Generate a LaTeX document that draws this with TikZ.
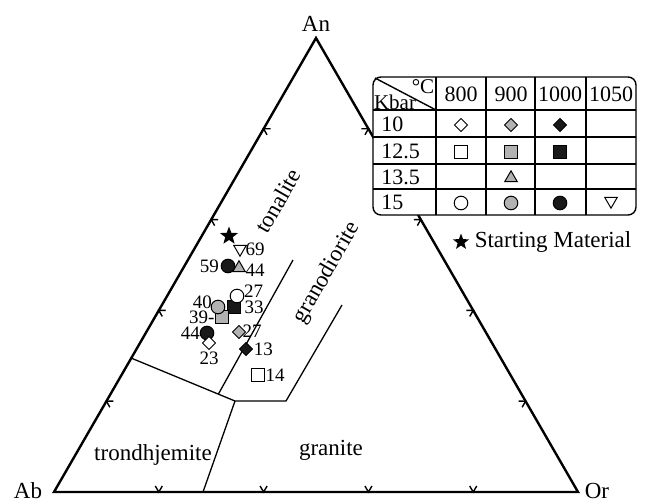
\documentclass[tikz,border=0pt]{standalone}
\usepackage{fontspec}
\setmainfont{Liberation Serif}
\usetikzlibrary{positioning,calc,shapes.geometric}

\begin{document}
\begin{tikzpicture}[x=0.5pt,y=-0.5pt,
    edge/.style={line width=1.2pt},
    bound/.style={line width=0.65pt},
    tick/.style={line width=0.7pt},
    tline/.style={line width=0.7pt},
    rock/.style={font=\fontsize{11.5}{13}\selectfont, inner sep=1pt},
    tab/.style={font=\fontsize{11}{12}\selectfont, inner sep=0pt},
    num/.style={font=\fontsize{9.5}{11}\selectfont, inner sep=0.5pt},
    sym/.style={draw, line width=0.5pt, inner sep=0pt, outer sep=0pt},
    wht/.style={sym, fill=white},
    gry/.style={sym, fill=black!30},
    blk/.style={sym, fill=black!90},
    dia/.style={diamond, minimum width=6.5pt, minimum height=6.5pt},
    sqr/.style={rectangle, minimum size=6.2pt},
    cir/.style={circle, minimum size=6.8pt},
    tri/.style={regular polygon, regular polygon sides=3, minimum size=7.2pt},
    itri/.style={tri, shape border rotate=180},
    stf/.style={star, star points=5, star point ratio=2.4, fill=black, inner sep=0pt, minimum size=9.5pt}]
\useasboundingbox (0,0) rectangle (646,503);

% triangle Ab-Or-An
\coordinate (Ab) at (54,492);
\coordinate (Or) at (578,492);
\coordinate (An) at (316,38);
\draw[edge, line join=miter] (Ab) -- (Or) -- (An) -- cycle;
\foreach \t in {0.2,0.4,0.6,0.8}{
  \draw[tick, shift={($(Ab)!\t!(Or)$)}] (-3.5,-6) -- (0,0) -- (3.5,-6);
  \draw[tick, shift={($(Ab)!\t!(An)$)}, rotate=-120] (-3.5,-6) -- (0,0) -- (3.5,-6);
  \draw[tick, shift={($(An)!\t!(Or)$)}, rotate=120] (-3.5,-6) -- (0,0) -- (3.5,-6);
}
\node[rock] (an) at (316,24) {An};
\node[rock] (ab) at (28,491) {Ab};
\node[rock] (or) at (597,491) {Or};

% fields
\coordinate (L1) at (131,358);
\coordinate (J) at (235,401);
\coordinate (B1) at (203,492);
\coordinate (T0) at ($(L1)!0.84!(J)$);
\coordinate (T1) at (293,260);
\coordinate (G0) at (286,401);
\coordinate (G1) at (342,305);
\draw[bound] (L1) -- (J) -- (G0) -- (G1);
\draw[bound] (J) -- (B1);
\draw[bound] (T0) -- (T1);
\node[rock, rotate=60] (ton) at (278,201) {tonalite};
\node[rock, rotate=60] (grd) at (327,273) {granodiorite};
\node[rock] (trd) at (153,455) {trondhjemite};
\node[rock] (grn) at (331,450) {granite};

% run products
\node[stf] (s0) at (229,236) {};
\node[wht, itri] (p69) at (240,249) {};
\node[num, right=0pt of p69] (l69) {69};
\node[blk, cir] (p59) at (228,266) {};
\node[num, left=0.5pt of p59] (l59) {59};
\node[gry, tri] (p44a) at (239,268) {};
\node[num, right=0.5pt of p44a, yshift=-1pt] (l44a) {44};
\node[blk, sqr] (p33) at (234,307) {};
\node[num, right=1.5pt of p33] (l33) {33};
\node[wht, cir] (p27a) at (237,296) {};
\node[num, above right=-4pt and 0.5pt of p27a] (l27a) {27};
\node[gry, sqr] (p39) at (222,317) {};
\node[num, left=0pt of p39] (l39) {39-};
\node[gry, cir] (p40) at (218,307) {};
\node[num, above left=-4pt and 0pt of p40] (l40) {40};
\node[blk, cir] (p44b) at (207,333) {};
\node[num, below left=-6pt and 0.5pt of p44b] (l44b) {44};
\node[wht, dia] (p23) at (209,343) {};
\node[num, below=0.5pt of p23] (l23) {23};
\node[gry, dia] (p27b) at (239,332) {};
\node[num, above right=-5pt and -0.5pt of p27b] (l27b) {27};
\node[blk, dia] (p13) at (246,349) {};
\node[num, right=0pt of p13] (l13) {13};
\node[wht, sqr] (p14) at (258,375) {};
\node[num, right=0pt of p14] (l14) {14};

% legend table
\draw[tline, fill=white, rounded corners=4pt] (373,77) rectangle (636,215);
\foreach \x in {436,486,535,586} \draw[tline] (\x,77) -- (\x,215);
\foreach \y in {110,137,164,189} \draw[tline] (373,\y) -- (636,\y);
\draw[tline] (375,78) -- (436,110);
\node[tab, font=\fontsize{10.5}{11}\selectfont] (kb) at (395,102) {Kbar};
\node[tab, font=\fontsize{10.5}{11}\selectfont] (dc) at (423,87) {°C};
\foreach \x/\t in {461/800,511/900,560/1000,611/1050}
  \node[tab] (c\t) at (\x,94) {\t};
\foreach \y/\t [count=\i] in {124/10,151/12.5,177/13.5,202/15}
  \node[tab, anchor=west] (r\i) at (381,\y) {\t};
\node[wht, dia] (k1) at (461,125) {};
\node[gry, dia] (k2) at (511,125) {};
\node[blk, dia] (k3) at (560,125) {};
\node[wht, sqr] (k4) at (461,152) {};
\node[gry, sqr] (k5) at (511,152) {};
\node[blk, sqr] (k6) at (560,152) {};
\node[gry, tri] (k7) at (511,178) {};
\node[wht, cir] (k8) at (461,203) {};
\node[gry, cir] (k9) at (511,203) {};
\node[blk, cir] (k10) at (560,203) {};
\node[wht, itri] (k11) at (611,201) {};
\node[stf, minimum size=8.5pt] (s1) at (461,242) {};
\node[rock, right=3pt of s1] (sm) {Starting Material};
\end{tikzpicture}
\end{document}
